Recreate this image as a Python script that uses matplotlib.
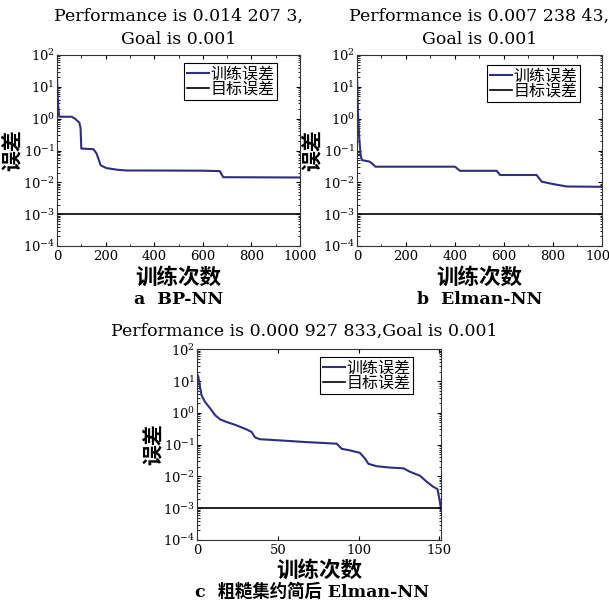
import math
import matplotlib
matplotlib.use("Agg")
import matplotlib.pyplot as plt
from matplotlib.ticker import LogLocator, FixedLocator, NullFormatter, FuncFormatter, MultipleLocator

plt.rcParams['mathtext.fontset'] = 'dejavuserif'
plt.rcParams['font.family'] = ['DejaVu Serif', 'Noto Sans CJK SC']

# ---------------- data ----------------
bp_epochs = [0, 2, 5, 9, 60, 74, 92, 97, 100, 150, 163, 180, 204, 245, 287, 400, 600, 670, 684, 1000]
bp_err = [20, 8, 2.5, 1.15, 1.15, 1.0, 0.75, 0.5, 0.115, 0.11, 0.08, 0.034, 0.028, 0.025, 0.0235,
          0.0235, 0.0232, 0.0225, 0.0145, 0.0142]

elman_epochs = [0, 2, 5, 10, 15, 20, 50, 60, 75, 400, 407, 420, 570, 584, 733, 754, 801, 856, 1000]
elman_err = [25, 5, 1.0, 0.2, 0.07, 0.05, 0.045, 0.04, 0.031, 0.031, 0.028, 0.023, 0.023, 0.017,
             0.017, 0.0105, 0.0088, 0.0074, 0.00724]

rs_epochs = [0, 0.6, 1.7, 2.7, 4.8, 7.9, 11, 14, 18, 24, 30.6, 33.7, 35.7, 38.8, 47, 57.4, 67.8, 78,
             86.4, 89.5, 94.6, 100.8, 104, 106, 111, 119.4, 127.7, 131.8, 138, 142, 146, 148.8, 150.3, 151]
rs_err = [16, 14, 6.5, 3.5, 2.2, 1.4, 0.85, 0.63, 0.52, 0.41, 0.30, 0.25, 0.17, 0.148, 0.14, 0.13,
          0.12, 0.113, 0.107, 0.074, 0.066, 0.055, 0.036, 0.025, 0.021, 0.019, 0.018, 0.014, 0.0105,
          0.0069, 0.0048, 0.004, 0.0016, 0.000928]

goal = 0.001
titles = ["Performance is 0.014 207 3,\nGoal is 0.001",
          "Performance is 0.007 238 43,\nGoal is 0.001",
          "Performance is 0.000 927 833,Goal is 0.001"]
captions = ["a  BP-NN", "b  Elman-NN", "c  粗糙集约简后 Elman-NN"]
legend_labels = ["训练误差", "目标误差"]
xlabel = "训练次数"
ylabel = "误差"
xlims = [1000, 1000, 151]
xticks = [[0, 200, 400, 600, 800, 1000], [0, 200, 400, 600, 800, 1000], [0, 50, 100, 150]]
yticks = [1e-4, 1e-3, 1e-2, 1e-1, 1e0, 1e1, 1e2]

train_color = '#2e2e7e'

fig = plt.figure(figsize=(6.09, 6.10), dpi=100)

W, H = 609, 610
def rect(l, t, r, b):
    return [l / W, 1 - b / H, (r - l) / W, (b - t) / H]

axes_px = [(57, 55, 300, 246), (357, 55, 602, 246), (197.3, 349.3, 441, 540)]
leg_anchor = [(0.905, 0.958), (0.91, 0.948), (0.885, 0.96)]
ylabel_x = [13, 313, 154]
xs = [bp_epochs, elman_epochs, rs_epochs]
ys = [bp_err, elman_err, rs_err]

cjk = ['Noto Sans CJK SC', 'DejaVu Sans']
for i in range(3):
    l, t, r, b = axes_px[i]
    ax = fig.add_axes(rect(l, t, r, b))
    ax.set_yscale('log')
    ax.plot(xs[i], ys[i], color=train_color, lw=1.5, label=legend_labels[0])
    ax.plot([0, xlims[i]], [goal, goal], color='black', lw=1.2, label=legend_labels[1])
    ax.set_xlim(0, xlims[i])
    ax.set_ylim(1e-4, 1e2)
    ax.xaxis.set_major_locator(FixedLocator(xticks[i]))
    if i < 2:
        ax.xaxis.set_minor_locator(MultipleLocator(100))
    ax.yaxis.set_major_locator(FixedLocator(yticks))
    ax.yaxis.set_minor_locator(LogLocator(base=10, subs=range(2, 10), numticks=20))
    ax.yaxis.set_minor_formatter(NullFormatter())
    ax.yaxis.set_major_formatter(FuncFormatter(lambda v, p: r'$10^{%d}$' % round(math.log10(v))))
    ax.tick_params(which='both', direction='in', top=True, right=True, labelsize=9.5)
    ax.tick_params(axis='y', pad=1.5)
    ax.tick_params(axis='x', pad=3)
    ax.tick_params(which='major', length=3, width=0.8)
    ax.tick_params(which='minor', length=1.8, width=0.6)
    for s in ax.spines.values():
        s.set_linewidth(0.8)
        s.set_color('#333333')
    leg = ax.legend(loc='upper right', bbox_to_anchor=leg_anchor[i], borderaxespad=0,
                    prop={'family': cjk, 'size': 11.5}, handlelength=1.4, handletextpad=0.1,
                    labelspacing=-0.1, borderpad=0.15, fancybox=False, framealpha=1,
                    edgecolor='black')
    leg.get_frame().set_linewidth(0.8)
    cx = (l + r) / 2 / W
    if i < 2:
        fig.text(cx, 1 - 28 / H, titles[i], ha='center', va='center', fontsize=12.5,
                 linespacing=1.45)
        ylab_y = 1 - 150 / H
        xlab_y = 1 - 277 / H
        cap_y = 1 - 300 / H
        cap_x = cx
    else:
        fig.text(304 / W, 1 - 331 / H, titles[i], ha='center', va='center', fontsize=12.5)
        ylab_y = 1 - 444 / H
        xlab_y = 1 - 570 / H
        cap_y = 1 - 592 / H
        cap_x = 312 / W
    fig.text(ylabel_x[i] / W, ylab_y, ylabel, rotation=90, ha='center', va='center',
             fontsize=15, family=cjk, weight='bold')
    fig.text(cx, xlab_y, xlabel, ha='center', va='center', fontsize=15.5, family=cjk,
             weight='bold')
    fig.text(cap_x, cap_y, captions[i], ha='center', va='center', fontsize=12.5,
             family=['DejaVu Serif', 'Noto Sans CJK SC'], weight='bold')

fig.savefig('out.png', dpi=100)
